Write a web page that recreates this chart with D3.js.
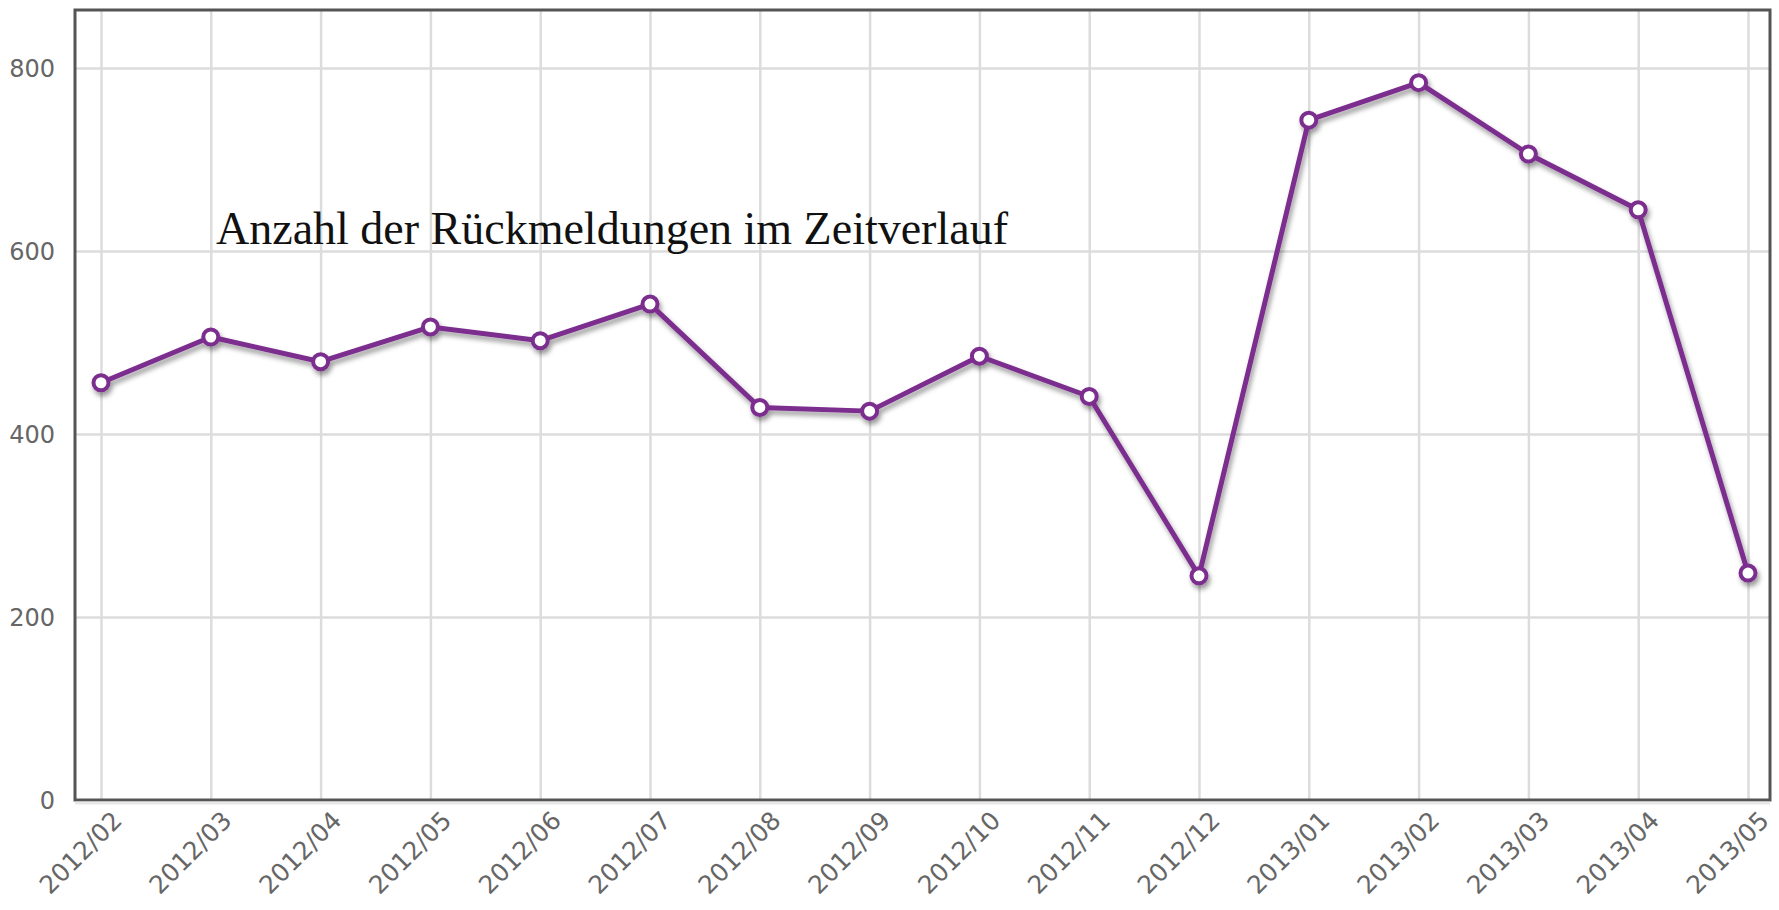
<!DOCTYPE html>
<html>
<head>
<meta charset="utf-8">
<script src="https://cdn.jsdelivr.net/npm/d3@7"></script>
<style>
  body { margin: 0; background: #fff; }
  .tick text { font-family: "DejaVu Sans", sans-serif; fill: #666; }
</style>
</head>
<body>
<div id="chart"></div>
<script>
const months = ["2012/02", "2012/03", "2012/04", "2012/05", "2012/06", "2012/07", "2012/08", "2012/09",
                "2012/10", "2012/11", "2012/12", "2013/01", "2013/02", "2013/03", "2013/04", "2013/05"];
const counts = [456, 506, 479, 517, 502, 542, 429, 425, 485, 441, 245, 743, 784, 706, 645, 248];
const yTicks = [0, 200, 400, 600, 800];
const title = "Anzahl der Rückmeldungen im Zeitverlauf";

const W = 1779, H = 910;
const frame = {left: 75, top: 10, right: 1770, bottom: 800};

const svg = d3.select("#chart").append("svg")
    .attr("width", W)
    .attr("height", H);

const defs = svg.append("defs");
defs.append("filter")
    .attr("id", "shadow")
    .attr("x", "-10%").attr("y", "-10%")
    .attr("width", "120%").attr("height", "130%")
  .append("feDropShadow")
    .attr("dx", 2).attr("dy", 4)
    .attr("stdDeviation", 2.5)
    .attr("flood-color", "#000")
    .attr("flood-opacity", 0.4);

var x = d3.scalePoint()
    .domain(months)
    .range([101, 1748]);

var y = d3.scaleLinear()
    .domain([0, 800])
    .range([frame.bottom, 68]);

// horizontal gridlines + y labels
const gy = svg.append("g")
    .attr("transform", "translate(" + frame.left + ",0)")
    .call(d3.axisLeft(y).tickValues(yTicks).tickSize(-(frame.right - frame.left)).tickPadding(20));
gy.select(".domain").remove();
gy.selectAll(".tick line").attr("stroke", "#dcdcdc").attr("stroke-width", 2.5);
gy.selectAll(".tick text").attr("font-size", 24).attr("dy", "0.36em");

// vertical gridlines + x labels
const gx = svg.append("g")
    .attr("transform", "translate(0," + frame.bottom + ")")
    .call(d3.axisBottom(x).tickSize(-(frame.bottom - frame.top)));
gx.select(".domain").remove();
gx.selectAll(".tick line").attr("stroke", "#dcdcdc").attr("stroke-width", 2.5);
gx.selectAll(".tick text")
    .attr("font-size", 25)
    .attr("text-anchor", "end")
    .attr("dy", null)
    .attr("y", 0)
    .attr("transform", "translate(22,22) rotate(-45)");

// frame
svg.append("rect")
    .attr("x", frame.left)
    .attr("y", frame.top)
    .attr("width", frame.right - frame.left)
    .attr("height", frame.bottom - frame.top)
    .attr("fill", "none")
    .attr("stroke", "#555")
    .attr("stroke-width", 3);

svg.append("line")
    .attr("x1", frame.left).attr("x2", frame.right)
    .attr("y1", frame.bottom + 3).attr("y2", frame.bottom + 3)
    .attr("stroke", "#e8e8e8").attr("stroke-width", 3);

// title
svg.append("text")
    .attr("x", 216)
    .attr("y", 244)
    .attr("font-family", "Liberation Serif, serif")
    .attr("font-size", 46)
    .attr("fill", "#111")
    .text(title);

const line = d3.line()
    .x((d, i) => x(months[i]))
    .y(d => y(d));

const series = svg.append("g").attr("filter", "url(#shadow)");

series.append("path")
    .datum(counts)
    .attr("fill", "none")
    .attr("stroke", "#7c2d8e")
    .attr("stroke-width", 5)
    .attr("stroke-linejoin", "round")
    .attr("d", line);

series.selectAll("circle")
    .data(counts)
    .enter().append("circle")
    .attr("cx", (d, i) => x(months[i]))
    .attr("cy", d => y(d))
    .attr("r", 7.5)
    .attr("fill", "#fff")
    .attr("stroke", "#7c2d8e")
    .attr("stroke-width", 4);
</script>
</body>
</html>
